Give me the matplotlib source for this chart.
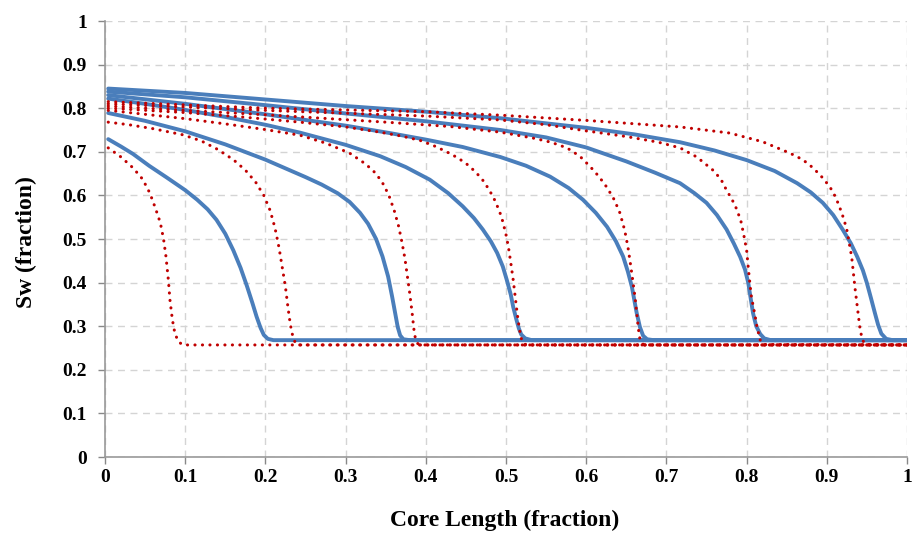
import matplotlib
matplotlib.use("Agg")
import matplotlib.pyplot as plt

# ---- data (x = core length fraction, y = Sw) ----
blue_1_x = [0.004, 0.02, 0.035, 0.055, 0.077, 0.10, 0.115, 0.128, 0.139, 0.150, 0.160, 0.169, 0.177, 0.184, 0.189, 0.194, 0.198, 0.203, 0.210, 1.0]
blue_1_y = [0.729, 0.712, 0.695, 0.668, 0.641, 0.612, 0.590, 0.568, 0.544, 0.512, 0.474, 0.434, 0.392, 0.352, 0.322, 0.296, 0.280, 0.271, 0.268, 0.268]

blue_2_x = [0.004, 0.05, 0.10, 0.15, 0.20, 0.25, 0.27, 0.29, 0.305, 0.318, 0.328, 0.338, 0.346, 0.353, 0.358, 0.362, 0.365, 0.368, 0.372, 0.38, 1.0]
blue_2_y = [0.789, 0.771, 0.747, 0.717, 0.682, 0.642, 0.625, 0.605, 0.585, 0.560, 0.535, 0.500, 0.460, 0.414, 0.368, 0.328, 0.298, 0.279, 0.270, 0.268, 0.268]

blue_3_x = [0.004, 0.05, 0.10, 0.15, 0.20, 0.243, 0.30, 0.343, 0.375, 0.405, 0.428, 0.446, 0.46, 0.471, 0.481, 0.489, 0.496, 0.501, 0.506, 0.509, 0.513, 0.516, 0.519, 0.524, 0.532, 1.0]
blue_3_y = [0.822, 0.810, 0.796, 0.780, 0.762, 0.744, 0.716, 0.690, 0.665, 0.636, 0.605, 0.575, 0.548, 0.522, 0.495, 0.468, 0.437, 0.406, 0.372, 0.344, 0.315, 0.295, 0.281, 0.272, 0.268, 0.268]

blue_4_x = [0.004, 0.10, 0.20, 0.30, 0.355, 0.40, 0.446, 0.493, 0.525, 0.555, 0.578, 0.596, 0.612, 0.626, 0.637, 0.646, 0.652, 0.657, 0.660, 0.663, 0.667, 0.671, 0.676, 0.684, 1.0]
blue_4_y = [0.830, 0.810, 0.786, 0.760, 0.743, 0.728, 0.711, 0.688, 0.668, 0.643, 0.617, 0.590, 0.560, 0.528, 0.495, 0.460, 0.425, 0.390, 0.360, 0.330, 0.298, 0.278, 0.270, 0.268, 0.268]

blue_5_x = [0.004, 0.10, 0.20, 0.30, 0.40, 0.493, 0.55, 0.60, 0.65, 0.686, 0.717, 0.735, 0.75, 0.763, 0.775, 0.784, 0.792, 0.798, 0.802, 0.805, 0.808, 0.812, 0.817, 0.822, 0.83, 1.0]
blue_5_y = [0.838, 0.825, 0.807, 0.788, 0.770, 0.750, 0.733, 0.710, 0.678, 0.652, 0.628, 0.605, 0.583, 0.555, 0.522, 0.490, 0.459, 0.430, 0.400, 0.365, 0.330, 0.300, 0.282, 0.272, 0.268, 0.268]

blue_6_x = [0.004, 0.10, 0.20, 0.30, 0.40, 0.493, 0.60, 0.66, 0.717, 0.76, 0.80, 0.835, 0.863, 0.88, 0.895, 0.908, 0.92, 0.93, 0.938, 0.945, 0.95, 0.955, 0.96, 0.964, 0.968, 0.974, 0.982, 1.0]
blue_6_y = [0.845, 0.835, 0.820, 0.805, 0.792, 0.777, 0.755, 0.740, 0.722, 0.703, 0.681, 0.656, 0.628, 0.607, 0.583, 0.555, 0.521, 0.490, 0.459, 0.428, 0.399, 0.365, 0.330, 0.303, 0.283, 0.271, 0.268, 0.268]

red_1_x = [0.004, 0.02, 0.035, 0.047, 0.056, 0.063, 0.069, 0.073, 0.076, 0.079, 0.081, 0.084, 0.087, 0.091, 0.096, 0.10, 1.0]
red_1_y = [0.709, 0.688, 0.663, 0.637, 0.605, 0.570, 0.537, 0.500, 0.460, 0.406, 0.360, 0.315, 0.285, 0.266, 0.258, 0.257, 0.257]

red_2_x = [0.004, 0.03, 0.06, 0.097, 0.12, 0.14, 0.16, 0.175, 0.188, 0.198, 0.206, 0.212, 0.217, 0.221, 0.225, 0.228, 0.231, 0.234, 0.237, 0.241, 1.0]
red_2_y = [0.768, 0.762, 0.753, 0.739, 0.725, 0.706, 0.682, 0.658, 0.630, 0.600, 0.565, 0.525, 0.480, 0.435, 0.390, 0.345, 0.305, 0.278, 0.263, 0.257, 0.257]

red_3_x = [0.004, 0.05, 0.10, 0.15, 0.20, 0.243, 0.275, 0.305, 0.325, 0.338, 0.348, 0.355, 0.361, 0.366, 0.37, 0.374, 0.377, 0.38, 0.383, 0.385, 0.387, 0.39, 0.394, 1.0]
red_3_y = [0.795, 0.786, 0.776, 0.764, 0.751, 0.738, 0.720, 0.697, 0.672, 0.650, 0.623, 0.595, 0.563, 0.530, 0.495, 0.455, 0.415, 0.375, 0.330, 0.295, 0.272, 0.260, 0.257, 0.257]

red_4_x = [0.004, 0.10, 0.17, 0.243, 0.30, 0.343, 0.37, 0.393, 0.41, 0.426, 0.44, 0.451, 0.462, 0.471, 0.479, 0.486, 0.492, 0.496, 0.50, 0.503, 0.506, 0.509, 0.511, 0.513, 0.515, 0.517, 0.519, 0.522, 0.526, 1.0]
red_4_y = [0.800, 0.790, 0.780, 0.768, 0.757, 0.745, 0.736, 0.726, 0.714, 0.700, 0.686, 0.672, 0.654, 0.635, 0.613, 0.589, 0.563, 0.540, 0.510, 0.482, 0.445, 0.406, 0.375, 0.344, 0.315, 0.291, 0.272, 0.260, 0.257, 0.257]

red_5_x = [0.004, 0.10, 0.20, 0.35, 0.43, 0.493, 0.535, 0.556, 0.576, 0.592, 0.605, 0.616, 0.626, 0.635, 0.642, 0.648, 0.652, 0.655, 0.658, 0.661, 0.663, 0.665, 0.667, 0.67, 0.675, 1.0]
red_5_y = [0.805, 0.795, 0.785, 0.768, 0.758, 0.745, 0.731, 0.722, 0.709, 0.690, 0.666, 0.643, 0.618, 0.590, 0.560, 0.520, 0.482, 0.445, 0.406, 0.365, 0.330, 0.295, 0.270, 0.259, 0.257, 0.257]

red_6_x = [0.004, 0.20, 0.40, 0.493, 0.55, 0.60, 0.65, 0.69, 0.717, 0.738, 0.758, 0.768, 0.775, 0.782, 0.788, 0.793, 0.796, 0.80, 0.802, 0.804, 0.806, 0.81, 0.813, 0.817, 0.822, 1.0]
red_6_y = [0.810, 0.795, 0.782, 0.773, 0.762, 0.748, 0.735, 0.722, 0.709, 0.688, 0.658, 0.637, 0.612, 0.590, 0.567, 0.540, 0.514, 0.475, 0.436, 0.400, 0.367, 0.330, 0.298, 0.268, 0.258, 0.257]

red_7_x = [0.004, 0.20, 0.40, 0.493, 0.60, 0.717, 0.779, 0.82, 0.854, 0.87, 0.883, 0.895, 0.904, 0.911, 0.916, 0.921, 0.925, 0.928, 0.931, 0.933, 0.935, 0.937, 0.939, 0.941, 0.944, 0.948, 1.0]
red_7_y = [0.815, 0.800, 0.792, 0.784, 0.772, 0.757, 0.743, 0.723, 0.697, 0.682, 0.663, 0.640, 0.619, 0.596, 0.573, 0.547, 0.521, 0.490, 0.459, 0.425, 0.390, 0.360, 0.330, 0.300, 0.270, 0.258, 0.257]

x_ticks = [0, 0.1, 0.2, 0.3, 0.4, 0.5, 0.6, 0.7, 0.8, 0.9, 1]
x_tick_labels = ["0", "0.1", "0.2", "0.3", "0.4", "0.5", "0.6", "0.7", "0.8", "0.9", "1"]
y_ticks = [0, 0.1, 0.2, 0.3, 0.4, 0.5, 0.6, 0.7, 0.8, 0.9, 1]
y_tick_labels = ["0", "0.1", "0.2", "0.3", "0.4", "0.5", "0.6", "0.7", "0.8", "0.9", "1"]
x_label = "Core Length (fraction)"
y_label = "Sw (fraction)"

blue_series = [(blue_1_x, blue_1_y), (blue_2_x, blue_2_y), (blue_3_x, blue_3_y),
               (blue_4_x, blue_4_y), (blue_5_x, blue_5_y), (blue_6_x, blue_6_y)]
red_series = [(red_1_x, red_1_y), (red_2_x, red_2_y), (red_3_x, red_3_y), (red_4_x, red_4_y),
              (red_5_x, red_5_y), (red_6_x, red_6_y), (red_7_x, red_7_y)]

plt.rcParams['font.family'] = ['Liberation Serif', 'DejaVu Serif']
plt.rcParams['font.weight'] = 'bold'

fig = plt.figure(figsize=(9.14, 5.39), dpi=100)
ax = fig.add_axes([105 / 914, 82 / 539, 802 / 914, 436 / 539])

blue = '#4a7ebb'
red = '#c00000'

for xs, ys in blue_series:
    ax.plot(xs, ys, color=blue, lw=2.8, solid_capstyle='round', solid_joinstyle='round', zorder=3)
for xs, ys in red_series:
    ax.plot(xs, ys, color=red, lw=2.2, linestyle=(0, (0.05, 2.4)),
            dash_capstyle='round', zorder=4)

ax.set_xlim(0, 1)
ax.set_ylim(0, 1)
ax.set_xticks(x_ticks)
ax.set_xticklabels(x_tick_labels)
ax.set_yticks(y_ticks)
ax.set_yticklabels(y_tick_labels)
ax.tick_params(axis='both', labelsize=14, colors='#888888', length=5, width=1, direction='out')
for lab in ax.get_xticklabels() + ax.get_yticklabels():
    lab.set_color('black')
    lab.set_fontweight('bold')
ax.tick_params(axis='x', pad=4)
ax.tick_params(axis='y', pad=8)

ax.grid(True, color='#d4d4d4', linestyle=(0, (5, 4)), lw=1, zorder=0)
ax.set_axisbelow(True)
for s in ['top', 'right']:
    ax.spines[s].set_visible(False)
for s in ['left', 'bottom']:
    ax.spines[s].set_color('#999999')
    ax.spines[s].set_linewidth(1.2)

fig.text(505 / 914, 1 - 520 / 539, x_label, ha='center', va='center', fontsize=17, fontweight='bold')
fig.text(26 / 914, 1 - 242 / 539, y_label, ha='center', va='center', fontsize=17, fontweight='bold', rotation=90)

fig.savefig('out.png', dpi=100)
